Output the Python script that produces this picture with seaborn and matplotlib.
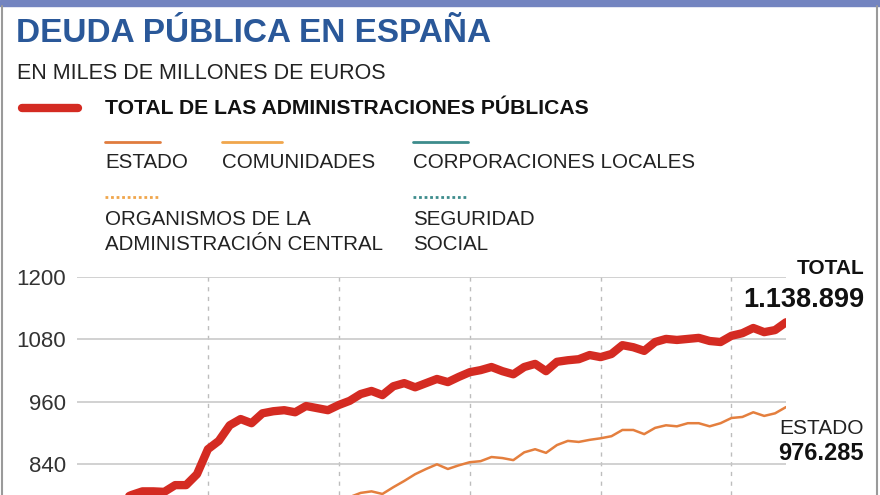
import pandas as pd
import matplotlib
matplotlib.use('Agg')
import matplotlib.pyplot as plt
from matplotlib.lines import Line2D
from matplotlib.patches import Rectangle
import seaborn as sns

# Monthly debt, thousands of millions of euros (month 0 = first month shown)
months = list(range(66))
total = [745, 750, 758, 765, 772, 781, 788, 788, 787, 800, 800, 821,
         869, 885, 915, 927, 919, 938, 942, 944, 940, 952, 948, 944,
         954, 962, 975, 981, 973, 990, 996, 988, 996, 1004, 998, 1008,
         1017, 1021, 1027, 1019, 1013, 1027, 1033, 1019, 1037, 1040, 1042, 1050,
         1046, 1052, 1069, 1065, 1058, 1075, 1081, 1079, 1081, 1083, 1077, 1075,
         1087, 1092, 1102, 1094, 1098, 1113]
estado = [600, 606, 612, 618, 624, 630, 636, 640, 644, 650, 655, 660,
          690, 700, 712, 720, 725, 735, 740, 745, 748, 755, 758, 760,
          768, 777, 785, 788, 783, 796, 808, 821, 831, 840, 831, 838,
          844, 846, 854, 852, 848, 863, 869, 862, 877, 885, 883, 887,
          890, 894, 906, 906, 898, 910, 915, 913, 919, 919, 913, 919,
          929, 931, 940, 933, 938, 950]
year_marks = [12, 24, 36, 48, 60]
y_ticks = [840, 960, 1080, 1200]

total_label = "1.138.899"
estado_label = "976.285"

sns.set_style("white")
plt.rcParams['font.family'] = ['Liberation Sans', 'DejaVu Sans']

W, H = 880, 495
fig = plt.figure(figsize=(W / 100, H / 100), dpi=100)


def fx(x):
    return x / W


def fy(y):
    return 1 - y / H


# frame: blue band on top, grey sides
fig.add_artist(Rectangle((0, fy(6)), 1, 6 / H, color='#7384c0', transform=fig.transFigure))
fig.add_artist(Line2D([fx(2), fx(2)], [0, fy(6)], color='#9a9a9a', lw=1.5))
fig.add_artist(Line2D([fx(877), fx(877)], [0, fy(6)], color='#9a9a9a', lw=1.5))

# titles
fig.text(fx(16), fy(34), "DEUDA PÚBLICA EN ESPAÑA", fontsize=24, weight='bold',
         color='#2a5899', va='center')
fig.text(fx(17), fy(73), "EN MILES DE MILLONES DE EUROS", fontsize=15.5,
         color='#222222', va='center')

# hand-made legend
fig.add_artist(Line2D([fx(22), fx(78)], [fy(108)] * 2, lw=6, color='#d42b22',
                      solid_capstyle='round'))
fig.text(fx(105), fy(108), "TOTAL DE LAS ADMINISTRACIONES PÚBLICAS", fontsize=15.2,
         weight='bold', color='#111111', va='center')

legend_solid = [(105, 160, '#e07c3e', "ESTADO"),
                (222, 282, '#f0a64c', "COMUNIDADES"),
                (413, 468, '#3d8c8c', "CORPORACIONES LOCALES")]
for x0, x1, c, name in legend_solid:
    fig.add_artist(Line2D([fx(x0), fx(x1)], [fy(142)] * 2, lw=2, color=c))
    fig.text(fx(x0), fy(163), name, fontsize=14.8, color='#222222', va='center')

legend_dotted = [(105, 160, '#f0a64c', "ORGANISMOS DE LA\nADMINISTRACIÓN CENTRAL"),
                 (413, 468, '#3d8c8c', "SEGURIDAD\nSOCIAL")]
for x0, x1, c, name in legend_dotted:
    fig.add_artist(Line2D([fx(x0), fx(x1)], [fy(197)] * 2, lw=2, color=c,
                          linestyle=(0, (1, 1))))
    fig.text(fx(x0), fy(232), name, fontsize=14.8, color='#222222', va='center',
             linespacing=1.4)

# chart area
ax = fig.add_axes([fx(77), 0, fx(786) - fx(77), fy(277)])
df = pd.DataFrame({'mes': months, 'Total': total, 'Estado': estado})

for m in year_marks:
    ax.axvline(m, color='#bdbdbd', lw=1, linestyle=(0, (3, 4)), zorder=0)
for t in y_ticks:
    ax.axhline(t, color='#c9c9c9', lw=1.2, zorder=0)

sns.lineplot(data=df, x='mes', y='Estado', ax=ax, color='#e47f3e', lw=1.8)
sns.lineplot(data=df, x='mes', y='Total', ax=ax, color='#d42b22', lw=6)

ax.set_xlim(0, 65)
ax.set_ylim(781, 1200)
ax.set_yticks(y_ticks)
ax.set_xticks([])
ax.set_xlabel('')
ax.set_ylabel('')
ax.tick_params(axis='y', length=0, pad=8, labelsize=16, labelcolor='#333333')
sns.despine(ax=ax, left=True, bottom=True)
ax.patch.set_alpha(0)

# end labels
fig.text(fx(864), fy(268), "TOTAL", fontsize=15, weight='bold', color='#111111',
         ha='right', va='center')
fig.text(fx(864), fy(300), total_label, fontsize=19.5, weight='bold', color='#111111',
         ha='right', va='center')
fig.text(fx(864), fy(429), "ESTADO", fontsize=15, color='#222222',
         ha='right', va='center')
fig.text(fx(864), fy(454), estado_label, fontsize=17, weight='bold', color='#111111',
         ha='right', va='center')

fig.savefig('out.png', dpi=100)
